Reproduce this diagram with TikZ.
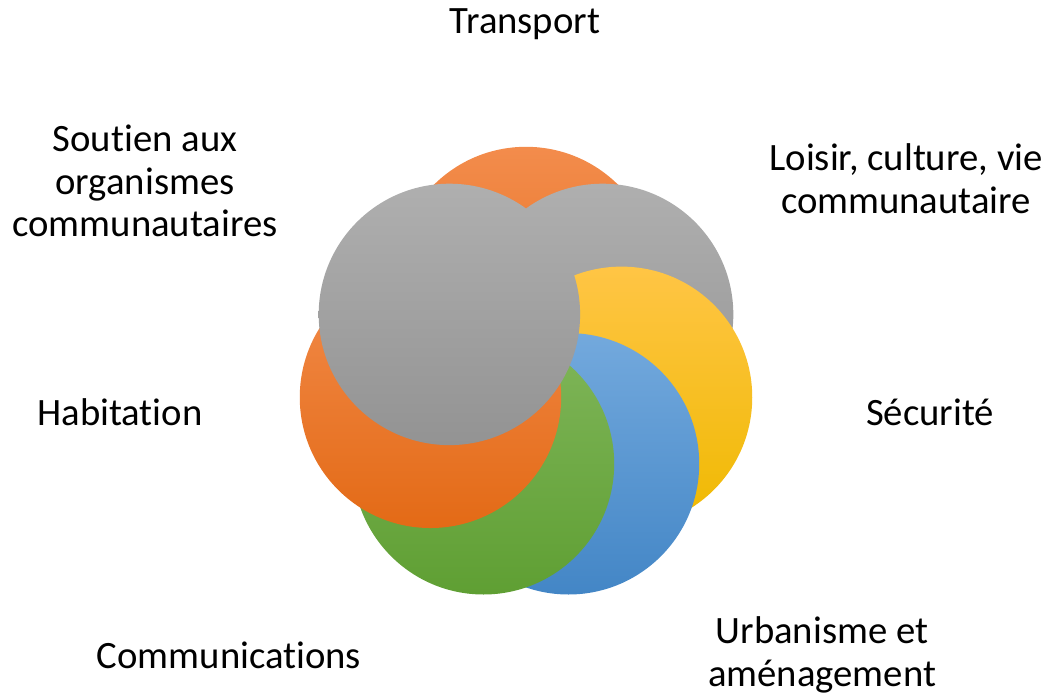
\documentclass[tikz,border=0pt]{standalone}
\usepackage{fontspec}
\setmainfont{Carlito}[RawFeature={-liga}]

\definecolor{orangeTop}{HTML}{F38C4C}
\definecolor{orangeBot}{HTML}{E36A16}
\definecolor{grayTop}{HTML}{AFAFAF}
\definecolor{grayBot}{HTML}{939393}
\definecolor{yellowTop}{HTML}{FFC545}
\definecolor{yellowBot}{HTML}{EFB900}
\definecolor{blueTop}{HTML}{73A9DD}
\definecolor{blueBot}{HTML}{4386C6}
\definecolor{greenTop}{HTML}{80B65A}
\definecolor{greenBot}{HTML}{5F9F33}

\tikzset{
  lbl/.style={anchor=base, align=center, inner sep=0pt,
    font=\fontsize{38.7}{42.5}\selectfont},
  orangeDisc/.style={top color=orangeTop, bottom color=orangeBot},
  grayDisc/.style={top color=grayTop, bottom color=grayBot},
  yellowDisc/.style={top color=yellowTop, bottom color=yellowBot},
  blueDisc/.style={top color=blueTop, bottom color=blueBot},
  greenDisc/.style={top color=greenTop, bottom color=greenBot}
}

\begin{document}
\begin{tikzpicture}[x=1pt, y=-1pt]

\useasboundingbox (0,0) rectangle (1056,699);

% ring of discs, last one on top
\begin{scope}[shift={(526,375.5)}]
\shade[orangeDisc] (-90:98) circle[radius=130.7];
\shade[grayDisc] (-38.57:98) circle[radius=130.7];
\shade[yellowDisc] (12.86:98) circle[radius=130.7];
\shade[blueDisc] (64.29:98) circle[radius=130.7];
\shade[greenDisc] (115.71:98) circle[radius=130.7];
\shade[orangeDisc] (167.14:98) circle[radius=130.7];
\shade[grayDisc] (-141.43:98) circle[radius=130.7];
\end{scope}

% labels (base = last line)
\node[lbl] (transport) at (525,33) {Transport};
\node[lbl] (loisir) at (906,213) {Loisir, culture, vie\\communautaire};
\node[lbl] (securite) at (930,425) {Sécurité};
\node[lbl] (urbanisme) at (822,686) {Urbanisme et\\aménagement};
\node[lbl] (communications) at (229,668.3) {Communications};
\node[lbl] (habitation) at (120,425) {Habitation};
\node[lbl] (soutien) at (145,236.7) {Soutien aux\\organismes\\communautaires};

\end{tikzpicture}
\end{document}
